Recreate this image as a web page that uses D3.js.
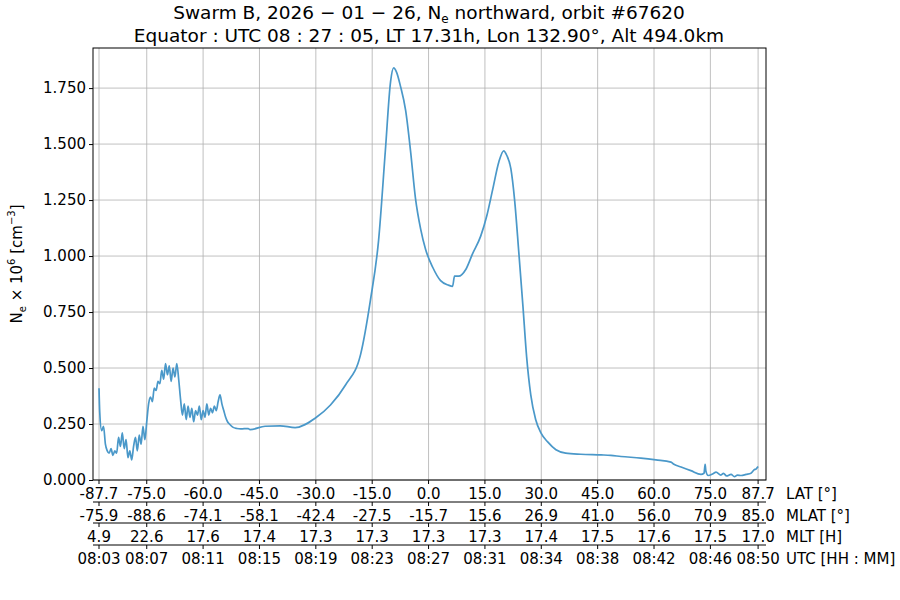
<!DOCTYPE html>
<html><head><meta charset="utf-8">
<script src="https://cdn.jsdelivr.net/npm/d3@7"></script>
<style>body{margin:0;background:#fff}text{font-family:"DejaVu Sans",sans-serif}</style>
</head><body><div id="chart"></div>
<script>
// tick rows
var latTicks = [-87.7, -75, -60, -45, -30, -15, 0, 15, 30, 45, 60, 75, 87.7];
var mlatLabels = ['-75.9','-88.6','-74.1','-58.1','-42.4','-27.5','-15.7','15.6','26.9','41.0','56.0','70.9','85.0'];
var mltLabels = ['4.9','22.6','17.6','17.4','17.3','17.3','17.3','17.3','17.4','17.5','17.6','17.5','17.0'];
var utcLabels = ['08:03','08:07','08:11','08:15','08:19','08:23','08:27','08:31','08:34','08:38','08:42','08:46','08:50'];
var rowNames = ['LAT [°]', 'MLAT [°]', 'MLT [H]', 'UTC [HH : MM]'];
var yTicks = [0, 0.25, 0.5, 0.75, 1, 1.25, 1.5, 1.75];

// Ne along the orbit
var lat = [-87.7,-87.5,-87,-86.5,-86,-85.5,-85,-84.5,-84,-83.5,-83,-82.5,-82,-81.5,-81,-80.5,-80,-79.5,-79,-78.5,-78,-77.5,-77,-76.5,-76,-75.5,-75,-74.5,-74,-73.5,-73,-72.5,-72,-71.5,-71,-70.5,-70,-69.5,-69,-68.5,-68,-67.5,-67,-66.5,-66,-65.5,-65,-64.5,-64,-63.5,-63,-62.5,-62,-61.5,-61,-60.5,-60,-59.5,-59,-58.5,-58,-57.5,-57,-56.5,-56,-55.5,-55,-54.5,-54,-53.5,-53,-52,-51,-50,-48,
  -47.5,-43.5,-39.5,-35.5,-30.1,-26.1,-22.1,-18.1,-15.5,-13.3,-11.5,-10.1,-9.3,-8.5,-7.5,-6.1,-4.8,-3.5,-2.1,-0.8,1.1,3.2,5.3,6.4,6.9,8.0,9.9,11.7,13.9,15.5,17.1,18.7,20.0,20.8,21.9,22.9,24.0,25.1,26.1,27.2,28.5,29.9,31.7,33.9,36.5,40.5,45.9,48.5,51.2,56.5,60.5,64.5,65.3,67.2,69.8,72.5,73.3,73.6,73.8,74.4,75.7,76.5,77.8,78.5,79.3,80.5,81.4,82.2,83.2,84.5,85.8,86.6,87.2,87.7];
var ne = [0.41,0.30,0.22,0.24,0.16,0.13,0.12,0.14,0.11,0.13,0.12,0.19,0.15,0.21,0.14,0.18,0.10,0.13,0.09,0.15,0.19,0.13,0.20,0.16,0.24,0.18,0.26,0.34,0.37,0.35,0.41,0.40,0.44,0.43,0.49,0.45,0.52,0.47,0.51,0.44,0.50,0.46,0.52,0.45,0.36,0.29,0.34,0.27,0.33,0.28,0.32,0.26,0.31,0.29,0.33,0.27,0.31,0.28,0.34,0.29,0.32,0.30,0.33,0.31,0.35,0.38,0.34,0.31,0.28,0.26,0.25,0.235,0.23,0.228,0.23,
  0.225,0.24,0.242,0.234,0.277,0.335,0.424,0.56,0.80,1.07,1.47,1.78,1.84,1.82,1.76,1.65,1.47,1.26,1.12,1.03,0.95,0.89,0.87,0.865,0.91,0.91,0.94,1.01,1.09,1.18,1.30,1.42,1.47,1.45,1.39,1.25,1.02,0.78,0.55,0.38,0.27,0.21,0.17,0.135,0.12,0.115,0.112,0.11,0.105,0.098,0.09,0.08,0.07,0.058,0.042,0.025,0.03,0.07,0.04,0.02,0.028,0.035,0.022,0.03,0.018,0.025,0.015,0.022,0.02,0.025,0.03,0.045,0.05,0.06];

var W = 900, H = 600, m = {l: 93, r: 766, t: 48, b: 480};
var svg = d3.select('#chart').append('svg').attr('width', W).attr('height', H);

var x = d3.scaleLinear().domain([-89.3, 89.8]).range([m.l, m.r]);
var y = d3.scaleLinear().domain([0, 1.929]).range([m.b, m.t]);

// grid
svg.append('g').selectAll('line').data(latTicks).enter().append('line')
  .attr('x1', d => x(d)).attr('x2', d => x(d)).attr('y1', m.t).attr('y2', m.b)
  .attr('stroke', '#b0b0b0').attr('stroke-width', 0.8);
svg.append('g').selectAll('line').data(yTicks).enter().append('line')
  .attr('x1', m.l).attr('x2', m.r).attr('y1', d => y(d)).attr('y2', d => y(d))
  .attr('stroke', '#b0b0b0').attr('stroke-width', 0.8);

// line
var line = d3.line().x((d, i) => x(lat[i])).y(d => y(d)).curve(d3.curveMonotoneX);
svg.append('path').datum(ne).attr('d', line).attr('fill', 'none')
  .attr('stroke', '#4a98c9').attr('stroke-width', 1.7);

// frame
svg.append('rect').attr('x', m.l).attr('y', m.t).attr('width', m.r - m.l).attr('height', m.b - m.t)
  .attr('fill', 'none').attr('stroke', '#000').attr('stroke-width', 1);

// y axis
var yAxis = d3.axisLeft(y).tickValues(yTicks).tickFormat(d3.format('.3f')).tickSize(4).tickPadding(3);
var ya = svg.append('g').attr('transform', 'translate(' + m.l + ',0)').call(yAxis);
ya.select('.domain').remove();
ya.selectAll('text').attr('font-size', 15).attr('font-family', 'DejaVu Sans').attr('fill', '#000');

// x rows
var rows = [latTicks.map(d => d.toFixed(1)), mlatLabels, mltLabels, utcLabels];
var rowY = [480, 502, 523, 545];
rows.forEach(function(labels, r) {
  var g = svg.append('g');
  if (r > 0) g.append('line').attr('x1', m.l).attr('x2', m.r).attr('y1', rowY[r]).attr('y2', rowY[r]).attr('stroke', '#000');
  g.selectAll('line.t').data(latTicks).enter().append('line').attr('class', 't')
    .attr('x1', d => x(d)).attr('x2', d => x(d)).attr('y1', rowY[r]).attr('y2', rowY[r] + 4).attr('stroke', '#000');
  g.selectAll('text').data(labels).enter().append('text')
    .attr('x', (d, i) => x(latTicks[i])).attr('y', rowY[r] + 19)
    .attr('text-anchor', 'middle').attr('font-size', 15).text(d => d);
  g.append('text').attr('x', 786).attr('y', rowY[r] + 19).attr('font-size', 15).text(rowNames[r]);
});

// titles
var t1 = svg.append('text').attr('x', 429).attr('y', 19).attr('text-anchor', 'middle').attr('font-size', 18.5);
t1.append('tspan').text('Swarm B,  2026 − 01 − 26,  N');
t1.append('tspan').attr('font-size', 12).attr('dy', 4).text('e');
t1.append('tspan').attr('dy', -4).text(' northward,  orbit #67620');
svg.append('text').attr('x', 429).attr('y', 42).attr('text-anchor', 'middle').attr('font-size', 18.5)
  .text('Equator :  UTC 08 : 27 : 05,  LT 17.31h,  Lon 132.90°,  Alt 494.0km');

var yl = svg.append('text').attr('transform', 'translate(22,264) rotate(-90)').attr('text-anchor', 'middle').attr('font-size', 15);
yl.append('tspan').text('N');
yl.append('tspan').attr('font-size', 10).attr('dy', 4).text('e');
yl.append('tspan').attr('dy', -4).text(' × 10');
yl.append('tspan').attr('font-size', 10).attr('dy', -7).text('6');
yl.append('tspan').attr('dy', 7).text(' [cm');
yl.append('tspan').attr('font-size', 10).attr('dy', -7).text('−3');
yl.append('tspan').attr('dy', 7).text(']');
</script></body></html>
